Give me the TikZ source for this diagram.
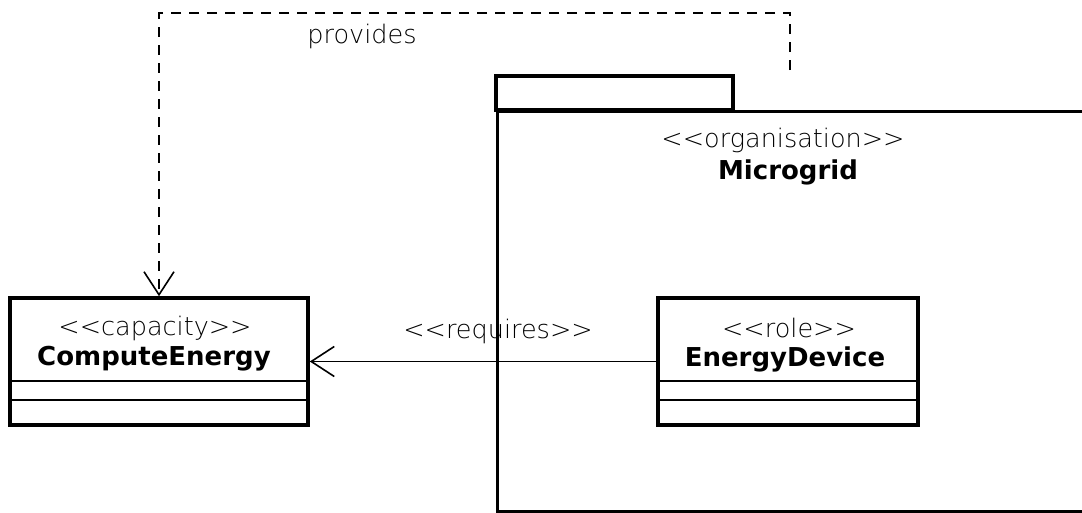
\documentclass[tikz,border=0pt]{standalone}
\usepackage{fontspec}
\newfontfamily\dvreg{DejaVu Sans}
\newfontfamily\dvlight{DejaVu Sans ExtraLight}
\usetikzlibrary{arrows.meta}
\tikzset{
  classbox/.style={draw, line width=3.6pt, minimum width=298pt, minimum height=127pt, inner sep=0pt},
  pkgline/.style={line width=3.4pt},
  sepline/.style={line width=1.5pt},
  stereo/.style={font=\dvlight\fontsize{25.5}{28}\selectfont, text=black, inner sep=0pt},
  cname/.style={font=\dvreg\fontsize{26}{30}\selectfont\bfseries, inner sep=0pt},
  openarrow/.style={-{Straight Barb[length=23pt, width=30pt, line width=1.6pt]}, line width=1.6pt},
}
\begin{document}
\begin{tikzpicture}[x=1pt,y=-1pt]
\useasboundingbox (0,0) rectangle (1082,512);
% package
\draw[pkgline] (496,110) rectangle (733,76);
\node[draw, pkgline, minimum width=600pt, minimum height=400pt, anchor=north west, inner sep=0pt] (pkg) at (496,110) {};
\node[stereo] (orgst) at (783,140) {<<organisation>>};
\node[cname] (orgname) at (788,172) {Microgrid};
% ComputeEnergy
\node[classbox] (ce) at (159,361.5) {};
\node[stereo] (cest) at (155,328) {<<capacity>>};
\node[cname] (cename) at (154,359) {ComputeEnergy};
\draw[sepline] (10,381) -- (308,381);
\draw[sepline] (10,400) -- (308,400);
% EnergyDevice
\node[classbox, minimum width=260pt] (ed) at (788,361.5) {};
\node[stereo] (edst) at (789,328) {<<role>>};
\node[cname] (edname) at (785,359) {EnergyDevice};
\draw[sepline] (658,381) -- (918,381);
\draw[sepline] (658,400) -- (918,400);
% requires
\draw[openarrow] (ed.west) -- (ce.east);
\node[stereo] (req) at (498,331) {<<requires>>};
% provides
\coordinate (p0) at (790,70);
\coordinate (p1) at (790,13);
\draw[openarrow, dash pattern=on 10pt off 8pt] (p0) -- (p1) -| (ce.north);
\node[stereo] (prov) at (362,36) {provides};
\end{tikzpicture}
\end{document}
